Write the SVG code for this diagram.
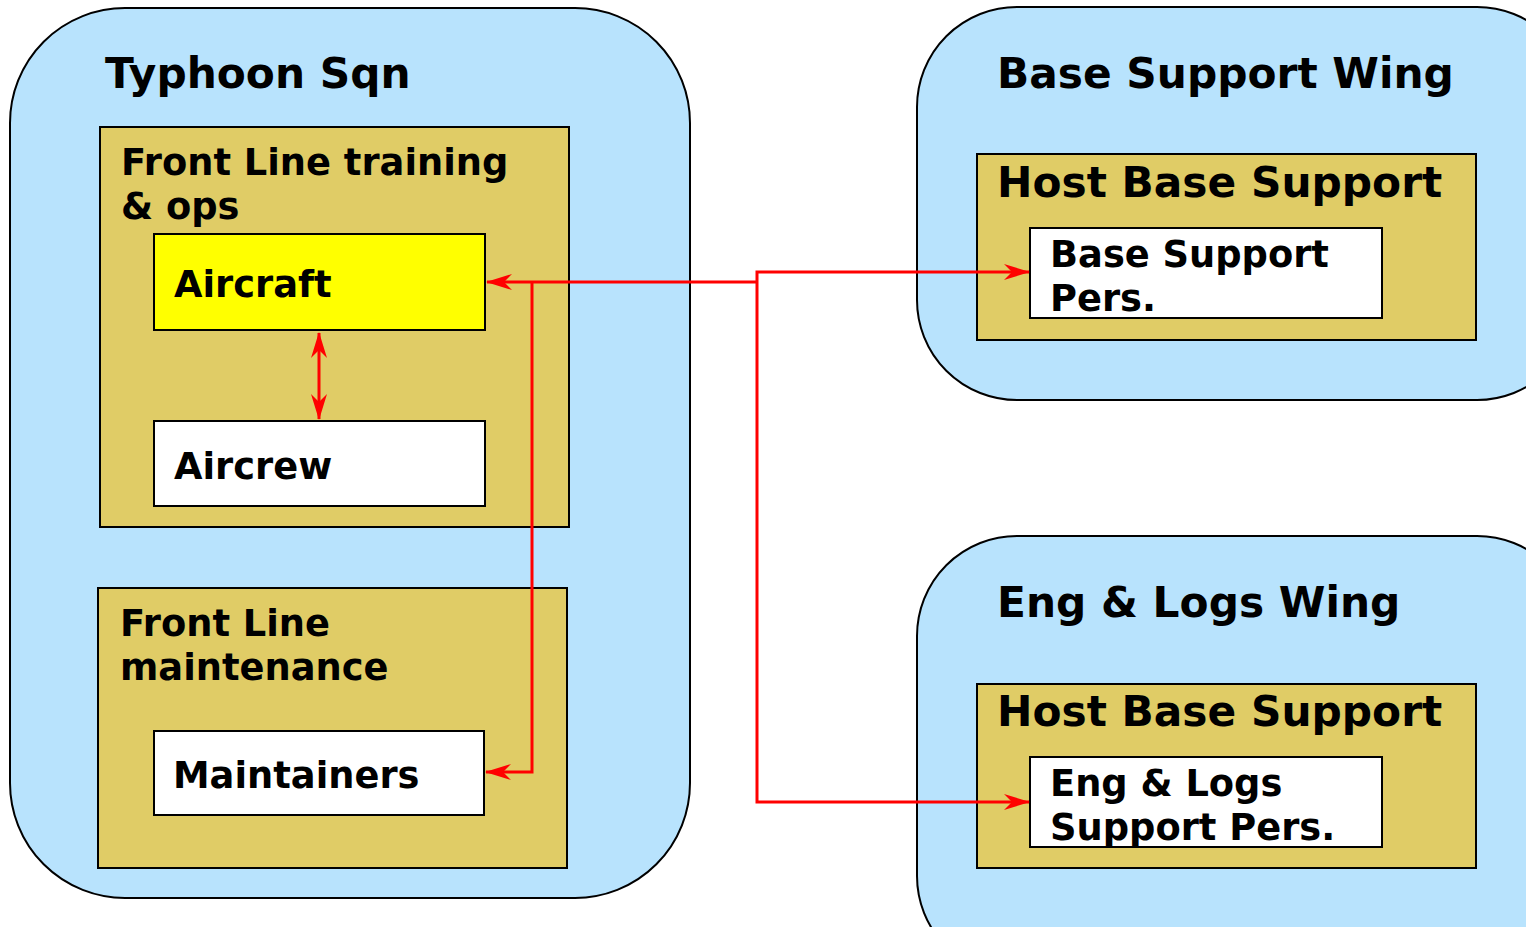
<svg xmlns="http://www.w3.org/2000/svg" width="1526" height="927" viewBox="0 0 1526 927">
<style>
.wing{fill:#b8e3fd;stroke:#000;stroke-width:2}
.grp{fill:#e0cc66;stroke:#000;stroke-width:2}
.box{fill:#fff;stroke:#000;stroke-width:2}
.t42{font-family:"DejaVu Sans",sans-serif;font-weight:bold;font-size:42.3px;fill:#000}
.t36{font-family:"DejaVu Sans",sans-serif;font-weight:bold;font-size:36.8px;fill:#000}
.c{fill:none;stroke:#ff0000;stroke-width:3}
</style>
<defs>
<marker id="ah" viewBox="0 0 26 16" refX="25" refY="8" markerWidth="26" markerHeight="16" markerUnits="userSpaceOnUse" orient="auto-start-reverse">
<path d="M0,0 L26,8 L0,16 L8,8 Z" fill="#ff0000"/>
</marker>
</defs>
<rect width="1526" height="927" fill="#fff"/>
<g id="typhoon-sqn">
<rect class="wing" x="10" y="8" width="680" height="890" rx="115" ry="115"/>
<text class="t42" x="105" y="88">Typhoon Sqn</text>
</g>
<g id="front-line-training">
<rect class="grp" x="100" y="127" width="469" height="400"/>
<text class="t36" x="121" y="175">Front Line training</text>
<text class="t36" x="121" y="219">&amp; ops</text>
</g>
<g id="aircraft">
<rect x="154" y="234" width="331" height="96" fill="#ffff00" stroke="#000" stroke-width="2"/>
<text class="t36" x="174" y="297">Aircraft</text>
</g>
<g id="aircrew">
<rect class="box" x="154" y="421" width="331" height="85"/>
<text class="t36" x="174" y="479">Aircrew</text>
</g>
<g id="front-line-maintenance">
<rect class="grp" x="98" y="588" width="469" height="280"/>
<text class="t36" x="120" y="636">Front Line</text>
<text class="t36" x="120" y="680">maintenance</text>
</g>
<g id="maintainers">
<rect class="box" x="154" y="731" width="330" height="84"/>
<text class="t36" x="173" y="788">Maintainers</text>
</g>
<g id="base-support-wing">
<rect class="wing" x="917" y="7" width="660" height="393" rx="100" ry="100"/>
<text class="t42" x="997" y="88">Base Support Wing</text>
</g>
<g id="host-base-support-1">
<rect class="grp" x="977" y="154" width="499" height="186"/>
<text class="t42" x="997" y="197">Host Base Support</text>
</g>
<g id="base-support-pers">
<rect class="box" x="1030" y="228" width="352" height="90"/>
<text class="t36" x="1050" y="267">Base Support</text>
<text class="t36" x="1050" y="311">Pers.</text>
</g>
<g id="eng-logs-wing">
<rect class="wing" x="917" y="536" width="660" height="440" rx="100" ry="100"/>
<text class="t42" x="997" y="617">Eng &amp; Logs Wing</text>
</g>
<g id="host-base-support-2">
<rect class="grp" x="977" y="684" width="499" height="184"/>
<text class="t42" x="997" y="726">Host Base Support</text>
</g>
<g id="eng-logs-support-pers">
<rect class="box" x="1030" y="757" width="352" height="90"/>
<text class="t36" x="1050" y="796">Eng &amp; Logs</text>
<text class="t36" x="1050" y="840">Support Pers.</text>
</g>
<g id="connectors">
<path class="c" d="M757,282 H487" marker-end="url(#ah)"/>
<path class="c" d="M757,282 V272 H1029" marker-end="url(#ah)"/>
<path class="c" d="M757,282 V802 H1029" marker-end="url(#ah)"/>
<path class="c" d="M532,282 V772 H486" marker-end="url(#ah)"/>
<path class="c" d="M319,333 V419" marker-start="url(#ah)" marker-end="url(#ah)"/>
</g>
</svg>
